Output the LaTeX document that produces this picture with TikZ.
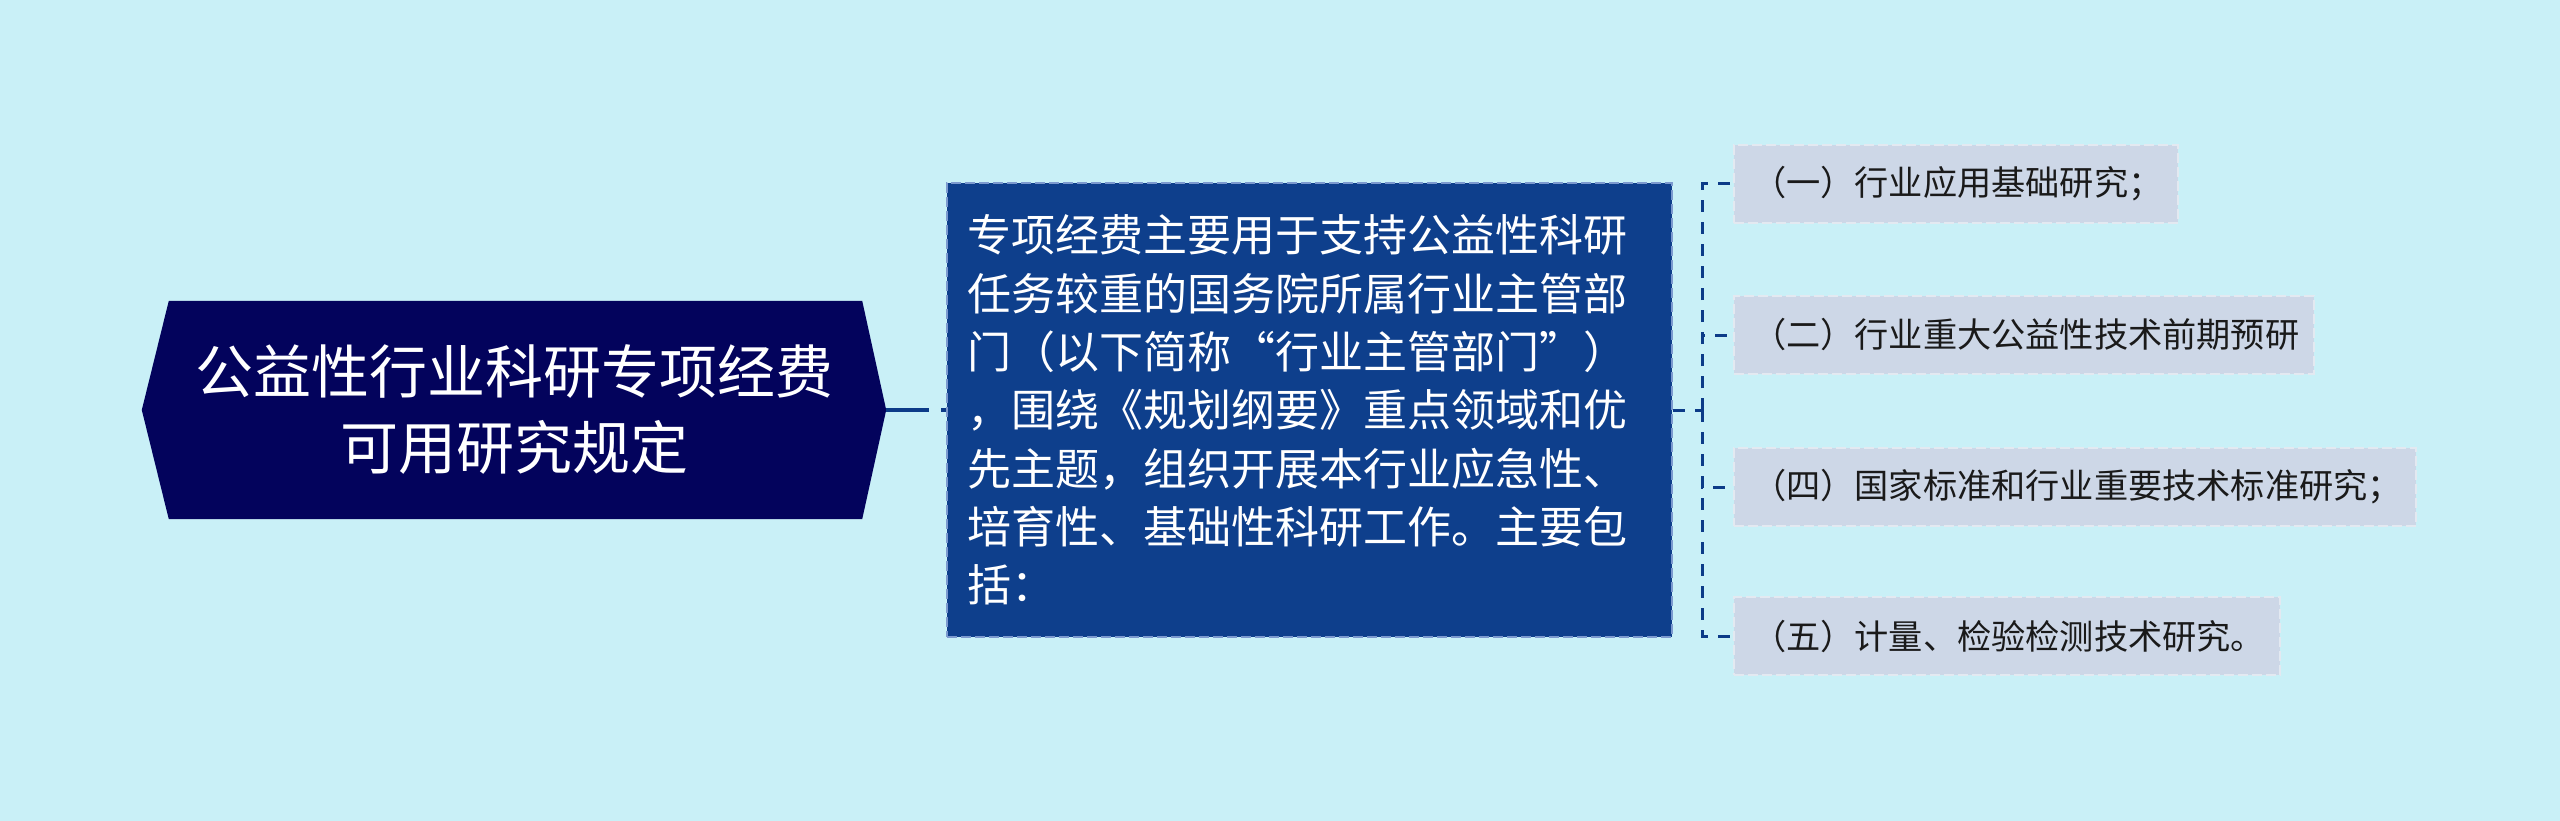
\documentclass[tikz,border=0pt]{standalone}
\usepackage{fontspec}
\newfontfamily\cjk{Noto Sans CJK SC}
\usetikzlibrary{backgrounds}
\definecolor{bgc}{HTML}{C9F0F7}
\definecolor{rootc}{HTML}{03035C}
\definecolor{midc}{HTML}{0E3F8C}
\definecolor{midb}{HTML}{7C9ACF}
\definecolor{kidc}{HTML}{CDD7E7}
\definecolor{kidb}{HTML}{E3E9F1}
\definecolor{linec}{HTML}{0C3B88}
\definecolor{kidt}{HTML}{1A1A1A}
\tikzset{
  rootbox/.style={shape=rectangle, minimum width=744pt, minimum height=218pt, inner sep=0pt,
    text=white, align=center, font=\cjk\fontsize{58}{76}\selectfont},
  midbox/.style={shape=rectangle, fill=midc, draw=midb, line width=2.5pt, dash pattern=on 10pt off 4pt,
    inner xsep=20pt, inner ysep=0pt, minimum height=454pt, text width=685pt, align=left,
    text=white, font=\cjk\fontsize{44}{58.3}\selectfont},
  kidbox/.style={shape=rectangle, fill=kidc, draw=kidb, line width=2pt, dash pattern=on 10pt off 4pt,
    inner xsep=18pt, inner ysep=0pt, minimum height=78pt, align=left, anchor=west,
    text=kidt, font=\cjk\fontsize{34.2}{40}\selectfont},
  rootlink/.style={draw=linec, line width=4pt, dash pattern=on 43pt off 12pt},
  kidlink/.style={draw=linec, line width=3pt, dash pattern=on 12pt off 10pt},
}
\begin{document}
\begin{tikzpicture}[x=1pt,y=-1pt]
\begin{scope}[on background layer]
  \fill[bgc] (0,0) rectangle (2560,821);
\end{scope}
\useasboundingbox (0,0) rectangle (2560,821);

\node[rootbox] (root) at (514,410) {公益性行业科研专项经费\\可用研究规定};
\begin{scope}[on background layer]
  \fill[rootc] (root.west) -- ([xshift=27pt]root.north west) -- ([xshift=-24pt]root.north east)
    -- (root.east) -- ([xshift=-24pt]root.south east) -- ([xshift=27pt]root.south west) -- cycle;
\end{scope}

\node[midbox] (mid) at (1309.5,410) {专项经费主要用于支持公益性科研\\任务较重的国务院所属行业主管部\\门（以下简称“行业主管部门”）\\，围绕《规划纲要》重点领域和优\\先主题，组织开展本行业应急性、\\培育性、基础性科研工作。主要包\\括：};

\node[kidbox, text width=408pt] (k1) at (1733,184) {（一）行业应用基础研究；};
\node[kidbox, text width=544pt] (k2) at (1733,335) {（二）行业重大公益性技术前期预研};
\node[kidbox, text width=646pt] (k3) at (1733,487) {（四）国家标准和行业重要技术标准研究；};
\node[kidbox, text width=510pt] (k4) at (1733,636) {（五）计量、检验检测技术研究。};

\coordinate (hub) at (1702,410);
\path[rootlink] (root.east) -- (mid.west);
\path[kidlink] (mid.east) -- (hub);
\path[kidlink] (hub) |- (k1.west);
\path[kidlink] (hub) |- (k2.west);
\path[kidlink] (hub) |- (k3.west);
\path[kidlink] (hub) |- (k4.west);
\end{tikzpicture}
\end{document}
